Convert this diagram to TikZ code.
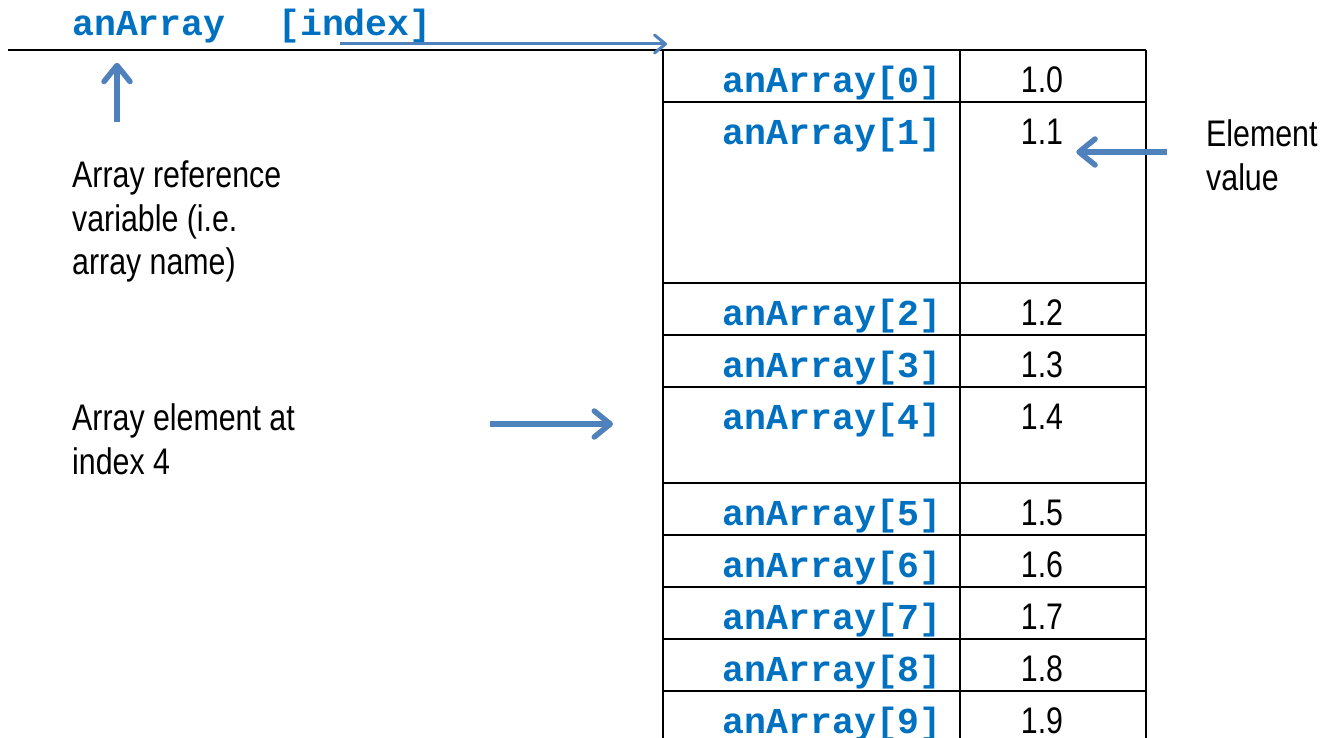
\documentclass[tikz,border=0pt]{standalone}
\usepackage{fontspec}
\setmainfont{Liberation Sans}[FakeStretch=0.82]
\newfontfamily\codefont{Liberation Mono}
\usetikzlibrary{arrows.meta,positioning}

\definecolor{codeblue}{HTML}{0070C0}
\definecolor{arrowblue}{HTML}{4F81BD}

\begin{document}
\begin{tikzpicture}[x=1pt,y=-1pt,
    code/.style={font=\codefont\bfseries\fontsize{36.5}{40}\selectfont, text=codeblue, inner sep=0pt},
    note/.style={font=\fontsize{37}{43.5}\selectfont, align=left, inner sep=0pt},
    val/.style={font=\fontsize{37}{40}\selectfont, inner sep=0pt},
    ptr/.style={draw=arrowblue, line width=5.5pt, -{Straight Barb[length=16pt,width=26pt,round]}}]
    \useasboundingbox (0,0) rectangle (1322,738);

    % expression on top
    \node (arrname) [code, anchor=base west] at (72,36) {anArray};
    \node (idx) [code, anchor=base west] at (278,36) {[index]};

    % the array as a column of cells
    \draw[line width=2.5pt] (8,50) -- (1146,50);
    \coordinate (tabcorner) at (663,50);
    \foreach \x in {663,960,1146}
        \draw[line width=2pt] (\x,50) -- (\x,738);
    \foreach \y in {102,283,335,387,483,535,587,639,691}
        \draw[line width=2pt] (663,\y) -- (1146,\y);
    \foreach \i/\y in {0/92.5,1/144.5,2/325.5,3/377.5,4/429.5,5/525.5,6/577.5,7/629.5,8/681.5,9/733.5} {
        \node (name\i) [code, anchor=base east] at (942,\y) {anArray[\i]};
        \node (val\i) [val, anchor=base] at (1042,\y) {1.\i};
    }

    % notes
    \node (refvar) [note, anchor=north west] at (72,161) {Array reference\\variable (i.e.\\array name)};
    \node (elemat) [note, anchor=north west] at (72,403.5) {Array element at\\index 4};
    \node (elemval) [note, anchor=north west] at (1206,119.5) {Element\\value};

    % pointers
    \coordinate (reftail) at (117,122);
    \coordinate (idxtail) at (340,44);
    \coordinate (valtail) at (1167,152);
    \coordinate (elemtail) at (490,424);
    \draw[ptr, shorten >=19pt] (reftail) -- (reftail |- arrname.south);
    \draw[ptr, line width=3pt, -{Straight Barb[length=11pt,width=18pt,round]}] (idxtail) -- ([xshift=4pt]idxtail -| tabcorner);
    \draw[ptr, shorten >=13pt] (valtail) -- (valtail -| val1.east);
    \draw[ptr, shorten >=50pt] (elemtail) -- (elemtail -| tabcorner);
\end{tikzpicture}
\end{document}
